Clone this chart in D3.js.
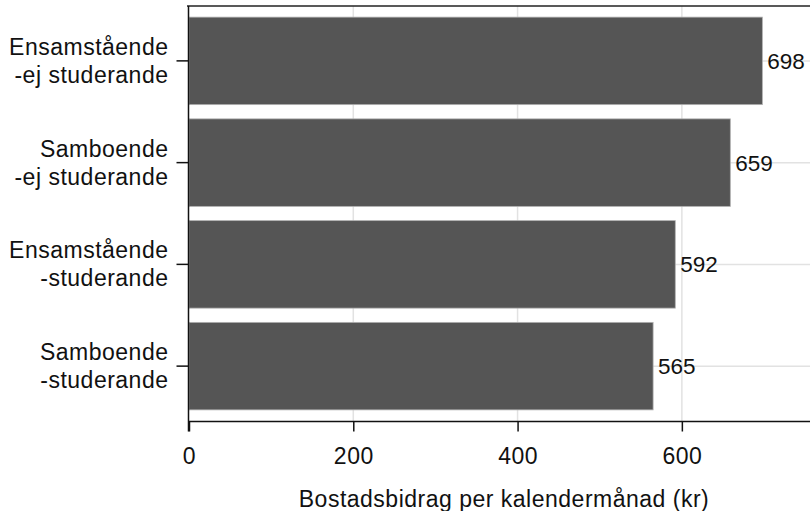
<!DOCTYPE html>
<html><head><meta charset="utf-8">
<script src="https://cdn.jsdelivr.net/npm/d3@7"></script>
<style>body{margin:0;background:#fff}svg{display:block;font-family:"Liberation Sans",Arial,sans-serif}</style>
</head><body><div id="c"></div>
<script>
const categories = [["Ensamstående","-ej studerande"],["Samboende","-ej studerande"],["Ensamstående","-studerande"],["Samboende","-studerande"]];
const values = [698, 659, 592, 565];
const xTicks = [0, 200, 400, 600];
const xTitle = "Bostadsbidrag per kalendermånad (kr)";

(function(){
const W = 810, H = 511;
const FF = '"Liberation Sans",Arial,sans-serif';
const FS = 23, LS = "0.5px";
const svg = d3.select("#c").append("svg").attr("width", W).attr("height", H);
const x = d3.scaleLinear().domain([0, 756]).range([189, 810]);
const keys = categories.map((c,i)=>i);
const y = d3.scaleBand().domain(keys).range([10, 417]).paddingInner(0.14).paddingOuter(0.07);
const plotTop = 6, plotBottom = 421.5;

// grid
svg.append("g").selectAll("line").data(xTicks.slice(1)).join("line")
  .attr("x1", d=>x(d)).attr("x2", d=>x(d)).attr("y1", plotTop).attr("y2", plotBottom)
  .attr("stroke", "#e2e2e2").attr("stroke-width", 1.5);
svg.append("g").selectAll("line").data(keys).join("line")
  .attr("x1", 189).attr("x2", W).attr("y1", d=>y(d)+y.bandwidth()/2).attr("y2", d=>y(d)+y.bandwidth()/2)
  .attr("stroke", "#e2e2e2").attr("stroke-width", 1.5);

// bars
svg.append("g").selectAll("rect").data(values).join("rect")
  .attr("x", x(0)).attr("y", (d,i)=>y(i)).attr("width", d=>x(d)-x(0)).attr("height", y.bandwidth())
  .attr("fill", "#555555").attr("stroke", "#b0b0b0").attr("stroke-width", 0.8);

// value labels
svg.append("g").selectAll("text").data(values).join("text")
  .attr("x", d=>x(d)+5).attr("y", (d,i)=>y(i)+y.bandwidth()/2).attr("dy", "0.35em")
  .attr("font-size", 22.5).attr("fill", "#111").text(d=>d);

// frame top
svg.append("line").attr("x1", 187).attr("x2", W).attr("y1", plotTop).attr("y2", plotTop).attr("stroke", "#222").attr("stroke-width", 1.5);

// x axis
const xa = svg.append("g").attr("transform", `translate(0,${plotBottom})`)
  .call(d3.axisBottom(x).tickValues(xTicks).tickSize(10).tickPadding(8).tickFormat(d3.format("d")));
xa.select(".domain").remove();
xa.append("line").attr("x1", 188).attr("x2", W).attr("stroke", "#111").attr("stroke-width", 1.5);
xa.selectAll(".tick line").attr("stroke", "#111").attr("stroke-width", 1.5);
xa.selectAll(".tick text").attr("font-size", FS).attr("letter-spacing", LS).attr("fill", "#111")
  .attr("font-family", FF).attr("dy", null).attr("y", 42);

// y axis
const ya = svg.append("g").attr("transform", `translate(188.5,0)`)
  .call(d3.axisLeft(y).tickSize(12).tickFormat(""));
ya.select(".domain").remove();
ya.append("line").attr("y1", plotTop).attr("y2", plotBottom+10).attr("stroke", "#111").attr("stroke-width", 1.5);
ya.selectAll(".tick line").attr("stroke", "#111").attr("stroke-width", 1.5);
ya.selectAll(".tick").each(function(d){
  const t = d3.select(this).append("text").attr("text-anchor", "end")
    .attr("font-size", FS).attr("letter-spacing", LS).attr("fill", "#111").attr("font-family", FF);
  t.append("tspan").attr("x", -20).attr("y", -6).text(categories[d][0]);
  t.append("tspan").attr("x", -20).attr("y", 22).text(categories[d][1]);
});

// title
svg.append("text").attr("x", 504).attr("y", 507).attr("text-anchor", "middle")
  .attr("font-size", FS).attr("letter-spacing", LS).attr("fill", "#111").text(xTitle);
})();
</script></body></html>
